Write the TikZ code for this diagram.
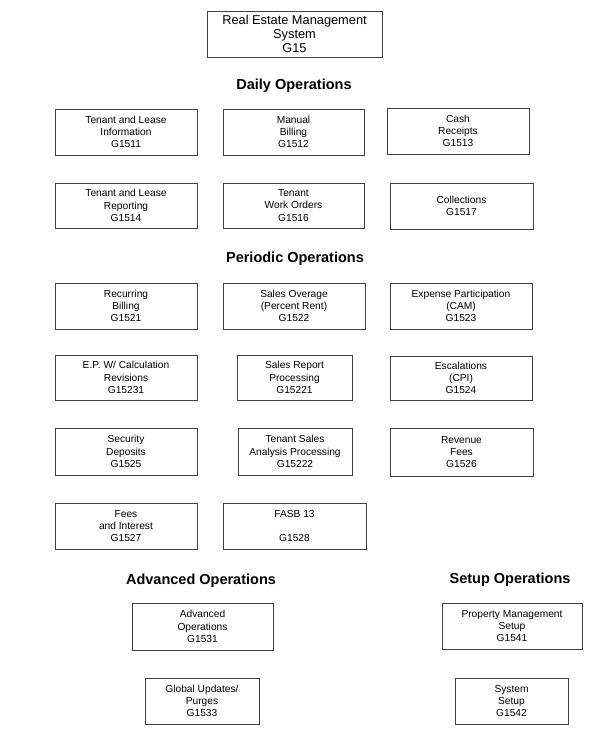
\documentclass[tikz,border=0pt]{standalone}
\usepackage{fontspec}
\setmainfont{Liberation Sans}
\usepackage{tikz}
\usepackage{xcolor}

\begin{document}
\begin{tikzpicture}[x=1pt, y=-1pt,
        box/.style={draw=black!75, line width=0.6pt, align=center, inner sep=0pt,
            minimum width=142pt, minimum height=46pt,
            font=\fontsize{10.2}{12.3}\selectfont},
        bigbox/.style={box, minimum width=175pt, font=\fontsize{12.8}{14.2}\selectfont},
        heading/.style={font=\fontsize{14.5}{16}\selectfont\bfseries}]
        \useasboundingbox (0,0) rectangle (595,741);

        \node[bigbox] (g15) at (294.5,34) {Real Estate Management\\System\\G15};

        \node[heading] (daily) at (294,86) {Daily Operations};
        \node[box] (g1511) at (126,132) {Tenant and Lease\\Information\\G1511};
        \node[box, minimum width=141pt] (g1512) at (293.5,132) {Manual\\Billing\\G1512};
        \node[box] (g1513) at (458,131) {Cash\\Receipts\\G1513};
        \node[box, minimum height=45pt] (g1514) at (126,205.5) {Tenant and Lease\\Reporting\\G1514};
        \node[box, minimum width=141pt, minimum height=45pt] (g1516) at (293.5,205.5) {Tenant\\Work Orders\\G1516};
        \node[box, minimum width=143pt] (g1517) at (461.5,206) {Collections\\G1517};

        \node[heading] (periodic) at (295,259) {Periodic Operations};
        \node[box] (g1521) at (126,306) {Recurring\\Billing\\G1521};
        \node[box] (g1522) at (294,306) {Sales Overage\\(Percent Rent)\\G1522};
        \node[box] (g1523) at (461,306) {Expense Participation\\(CAM)\\G1523};
        \node[box, minimum height=45pt] (g15231) at (126,377.5) {E.P. W/ Calculation\\Revisions\\G15231};
        \node[box, minimum width=115pt, minimum height=45pt] (g15221) at (294.5,377.5) {Sales Report\\Processing\\G15221};
        \node[box, minimum height=44pt] (g1524) at (461,378) {Escalations\\(CPI)\\G1524};
        \node[box, minimum height=47pt] (g1525) at (126,451.5) {Security\\Deposits\\G1525};
        \node[box, minimum width=114pt, minimum height=47pt] (g15222) at (295,451.5) {Tenant Sales\\Analysis Processing\\G15222};
        \node[box, minimum width=143pt, minimum height=48pt] (g1526) at (461.5,452) {Revenue\\Fees\\G1526};
        \node[box] (g1527) at (126,526) {Fees\\and Interest\\G1527};
        \node[box, minimum width=143pt] (g1528) at (294.5,526) {FASB 13\\[12pt]G1528};

        \node[heading] (advanced) at (201,581) {Advanced Operations};
        \node[box, minimum width=141pt, minimum height=47pt] (g1531) at (202.5,626.5) {Advanced\\Operations\\G1531};
        \node[box, minimum width=114pt] (g1533) at (202,701) {Global Updates/\\Purges\\G1533};

        \node[heading] (setup) at (510,580) {Setup Operations};
        \node[box, minimum width=140pt] (g1541) at (512,626) {Property Management\\Setup\\G1541};
        \node[box, minimum width=113pt] (g1542) at (511.5,701) {System\\Setup\\G1542};
        \end{tikzpicture}
\end{document}
